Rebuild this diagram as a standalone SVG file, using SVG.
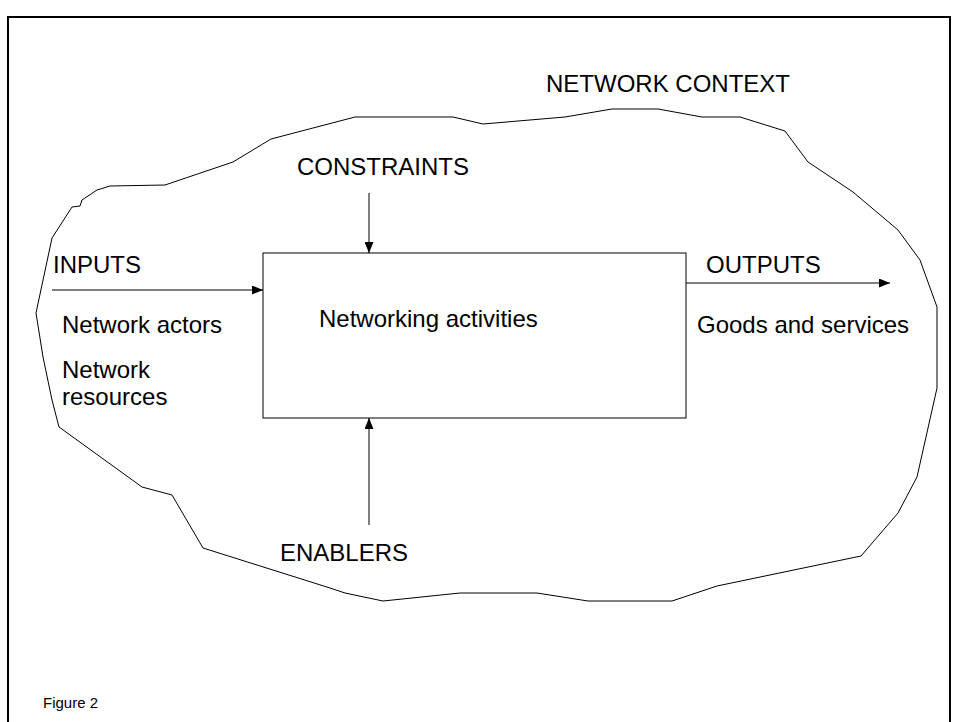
<svg xmlns="http://www.w3.org/2000/svg" width="958" height="722" viewBox="0 0 958 722">
<style>
.t{font-family:"Liberation Sans",Arial,sans-serif;font-size:24px;fill:#000}
.s{font-family:"Liberation Sans",Arial,sans-serif;font-size:15px;fill:#000}
.ln{stroke:#000;stroke-width:1;fill:none}
</style>
<defs>
<marker id="ah" viewBox="0 0 11 9" refX="11" refY="4.5" markerWidth="11" markerHeight="9" markerUnits="userSpaceOnUse" orient="auto">
<path d="M0,0 L11,4.5 L0,9 Z" fill="#000"/>
</marker>
</defs>
<rect width="958" height="722" fill="#fff"/>
<rect id="frame" x="8" y="17" width="942" height="720" fill="none" stroke="#000" stroke-width="2"/>
<g id="context">
<polygon class="ln" points="36,313 52,238 72,207 80,206 82,200 97,190 110,186 165,185 233,162 271,139 355,117 453,117 483,124 565,117 612,109 658,109 702,117 740,117 785,131 808,162 853,192 898,230 920,260 937,307 937,388 917,477 898,513 861,556 717,586 672,601 588,601 537,593 460,593 383,601 345,593 330,588 203,548 172,495 142,487 59,427 52,400 43,357"/>
<text class="t" x="546" y="92">NETWORK CONTEXT</text>
</g>
<g id="activities">
<rect x="263" y="253" width="423" height="165" fill="none" stroke="#000" stroke-width="1"/>
<text class="t" x="319" y="327">Networking activities</text>
</g>
<g id="inputs">
<text class="t" x="53" y="273">INPUTS</text>
<text class="t" x="62" y="333">Network actors</text>
<text class="t" x="62" y="378">Network</text>
<text class="t" x="62" y="405">resources</text>
</g>
<g id="outputs">
<text class="t" x="706" y="273">OUTPUTS</text>
<text class="t" x="697" y="333">Goods and services</text>
</g>
<g id="constraints">
<text class="t" x="297" y="175">CONSTRAINTS</text>
</g>
<g id="enablers">
<text class="t" x="280" y="561">ENABLERS</text>
</g>
<g id="connectors">
<line class="ln" x1="52" y1="290" x2="263" y2="290" marker-end="url(#ah)"/>
<line class="ln" x1="686" y1="283" x2="890" y2="283" marker-end="url(#ah)"/>
<line class="ln" x1="369" y1="193" x2="369" y2="253" marker-end="url(#ah)"/>
<line class="ln" x1="369" y1="525" x2="369" y2="418" marker-end="url(#ah)"/>
</g>
<text class="s" x="43" y="708">Figure 2</text>
</svg>
